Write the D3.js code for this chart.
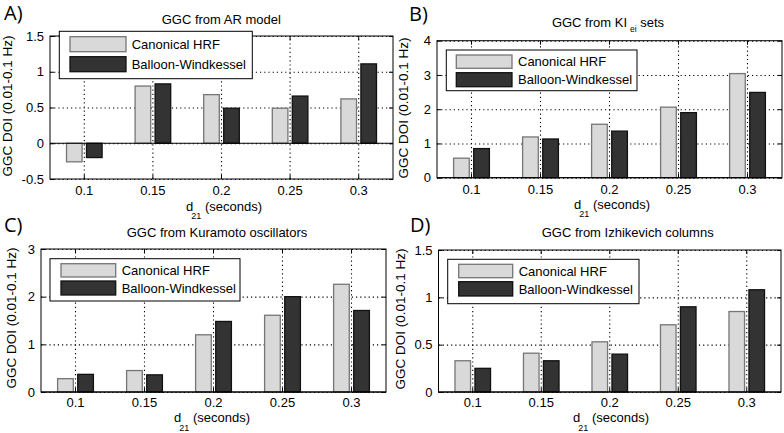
<!DOCTYPE html>
<html>
<head>
<meta charset="utf-8">
<script src="https://cdn.jsdelivr.net/npm/d3@7/dist/d3.min.js"></script>
<style>
  html, body { margin: 0; padding: 0; background: #fff; }
  svg { display: block; font-family: "Liberation Sans", Arial, Helvetica, sans-serif; }
</style>
</head>
<body>
<svg id="chart" width="784" height="433"></svg>
<script>
// ---------- data ----------
const categories = ["0.1", "0.15", "0.2", "0.25", "0.3"];
const seriesNames = ["Canonical HRF", "Balloon-Windkessel"];

const arCanonical = [-0.26, 0.80, 0.68, 0.49, 0.62];
const arBalloon   = [-0.20, 0.83, 0.49, 0.66, 1.11];

const kiCanonical = [0.57, 1.19, 1.56, 2.06, 3.04];
const kiBalloon   = [0.85, 1.13, 1.36, 1.90, 2.49];

const kuCanonical = [0.28, 0.45, 1.20, 1.61, 2.26];
const kuBalloon   = [0.37, 0.36, 1.48, 2.00, 1.71];

const izCanonical = [0.33, 0.41, 0.53, 0.71, 0.85];
const izBalloon   = [0.25, 0.33, 0.40, 0.90, 1.08];

const yTicksA = [-0.5, 0, 0.5, 1, 1.5];
const yTicksB = [0, 1, 2, 3, 4];
const yTicksC = [0, 1, 2, 3];
const yTicksD = [0, 0.5, 1, 1.5];

const panelLabels = ["A)", "B)", "C)", "D)"];
const yLabel = "GGC DOI (0.01-0.1 Hz)";

// ---------- layout ----------
const panels = [
  { label: panelLabels[0], title: ["GGC from AR model"], series: [arCanonical, arBalloon], ticks: yTicksA,
    box: { l: 50, r: 393, t: 36, b: 179 }, lab: { x: 4, y: 20 }, titlePos: { x: 221.3, y: 24.3 },
    yl: { x: 12, y: 106 }, xtY: 195, xl: { x: 224, y: 210.5 },
    leg: { x: 59.3, y: 31.3, w: 193, h: 47.4, sx: 70, sw: 56, sy: [36.7, 56.7], sh: [15, 15], tx: 131.7 } },
  { label: panelLabels[1], title: ["GGC from KI", "ei", " sets"], series: [kiCanonical, kiBalloon], ticks: yTicksB,
    box: { l: 437, r: 782, t: 40.7, b: 177.7 }, lab: { x: 409, y: 21 }, titlePos: { x: 608, y: 26.7 },
    yl: { x: 408, y: 108 }, xtY: 193.5, xl: { x: 612, y: 208.5 },
    leg: { x: 446.3, y: 50, w: 190.7, h: 40.7, sx: 456.3, sw: 55.7, sy: [55, 72.7], sh: [13.3, 14], tx: 518 } },
  { label: panelLabels[2], title: ["GGC from Kuramoto oscillators"], series: [kuCanonical, kuBalloon], ticks: yTicksC,
    box: { l: 41, r: 386, t: 249, b: 392 }, lab: { x: 4, y: 232 }, titlePos: { x: 217, y: 237 },
    yl: { x: 15.5, y: 318 }, xtY: 407, xl: { x: 212, y: 422 },
    leg: { x: 50, y: 258.7, w: 190, h: 42.3, sx: 61, sw: 54.7, sy: [263.7, 281], sh: [13.3, 14], tx: 121.7 } },
  { label: panelLabels[3], title: ["GGC from Izhikevich columns"], series: [izCanonical, izBalloon], ticks: yTicksD,
    box: { l: 438.5, r: 781, t: 250, b: 392 }, lab: { x: 410, y: 232 }, titlePos: { x: 627.7, y: 237 },
    yl: { x: 405, y: 319 }, xtY: 407, xl: { x: 611, y: 422 },
    leg: { x: 447.7, y: 259.3, w: 191.3, h: 44.4, sx: 458.7, sw: 54, sy: [264.3, 281.7], sh: [13.4, 14.3], tx: 518.7 } }
];

const fills = ["#d9d9d9", "#333333"];
const strokes = ["#767676", "#111111"];

const svg = d3.select("#chart");

panels.forEach(p => {
  const g = svg.append("g");
  const b = p.box;
  const x0 = d3.scaleBand().domain(categories).range([b.l, b.r]).padding(0);
  const x1 = d3.scaleBand().domain(seriesNames).range([0, x0.bandwidth()])
    .paddingInner(0.22).paddingOuter(0.825);
  const y = d3.scaleLinear().domain(d3.extent(p.ticks)).range([b.b, b.t]);

  // gridlines
  const grid = g.append("g").attr("class", "grid");
  grid.append("g").attr("transform", `translate(0,${b.b})`)
    .call(d3.axisBottom(x0).tickSize(-(b.b - b.t)).tickFormat(""));
  grid.append("g").attr("transform", `translate(${b.l},0)`)
    .call(d3.axisLeft(y).tickValues(p.ticks).tickSize(-(b.r - b.l)).tickFormat(""));
  grid.selectAll(".domain").remove();
  grid.selectAll("line").attr("stroke", "#000").attr("stroke-width", 1.1)
    .attr("stroke-dasharray", "1.2,3");

  // bars
  categories.forEach((c, i) => {
    seriesNames.forEach((s, k) => {
      const v = p.series[k][i];
      g.append("rect")
        .attr("x", x0(c) + x1(s))
        .attr("width", x1.bandwidth())
        .attr("y", y(Math.max(0, v)))
        .attr("height", Math.abs(y(v) - y(0)))
        .attr("fill", fills[k])
        .attr("stroke", strokes[k])
        .attr("stroke-width", 1.3);
    });
  });

  // baseline at zero
  g.append("line").attr("x1", b.l).attr("x2", b.r).attr("y1", y(0)).attr("y2", y(0))
    .attr("stroke", "#000").attr("stroke-width", 1);

  // axes with inward ticks
  const fmt = d => String(d);
  const ax = g.append("g").attr("class", "axes");
  ax.append("g").attr("transform", `translate(0,${b.b})`)
    .call(d3.axisBottom(x0).tickSize(-4).tickFormat(""));
  ax.append("g").attr("transform", `translate(0,${b.t})`)
    .call(d3.axisTop(x0).tickSize(-4).tickFormat(""));
  ax.append("g").attr("transform", `translate(${b.l},0)`)
    .call(d3.axisLeft(y).tickValues(p.ticks).tickSize(-4).tickPadding(6).tickFormat(fmt));
  ax.append("g").attr("transform", `translate(${b.r},0)`)
    .call(d3.axisRight(y).tickValues(p.ticks).tickSize(-4).tickFormat(""));
  ax.selectAll(".domain").remove();
  ax.selectAll("line").attr("stroke", "#000");
  ax.selectAll("text").attr("font-size", 13).attr("fill", "#000")
    .attr("font-family", "Liberation Sans, Arial, sans-serif");

  // x tick labels
  g.append("g").selectAll("text").data(categories).join("text")
    .attr("x", d => x0(d) + x0.bandwidth() / 2)
    .attr("y", p.xtY)
    .attr("text-anchor", "middle")
    .attr("font-size", 13)
    .text(d => d);

  // box
  g.append("rect").attr("x", b.l).attr("y", b.t).attr("width", b.r - b.l).attr("height", b.b - b.t)
    .attr("fill", "none").attr("stroke", "#000").attr("stroke-width", 1);

  // legend
  const L = p.leg;
  const lg = g.append("g");
  lg.append("rect").attr("x", L.x).attr("y", L.y).attr("width", L.w).attr("height", L.h)
    .attr("fill", "#fff").attr("stroke", "#000").attr("stroke-width", 1);
  seriesNames.forEach((s, k) => {
    lg.append("rect").attr("x", L.sx).attr("y", L.sy[k]).attr("width", L.sw).attr("height", L.sh[k])
      .attr("fill", fills[k]).attr("stroke", strokes[k]).attr("stroke-width", 1.3);
    lg.append("text").attr("x", L.tx).attr("y", L.sy[k] + L.sh[k] / 2 + 4.7)
      .attr("font-size", 13).text(s);
  });

  // title
  const t = g.append("text").attr("x", p.titlePos.x).attr("y", p.titlePos.y)
    .attr("text-anchor", "middle").attr("font-size", 13);
  if (p.title.length === 1) {
    t.text(p.title[0]);
  } else {
    t.append("tspan").text(p.title[0]);
    t.append("tspan").attr("dx", 3).attr("dy", 5).attr("font-size", 8.5).text(p.title[1]);
    t.append("tspan").attr("dy", -5).text(p.title[2]);
  }

  // x label
  const xl = g.append("text").attr("x", p.xl.x).attr("y", p.xl.y)
    .attr("text-anchor", "middle").attr("font-size", 13);
  xl.append("tspan").text("d");
  xl.append("tspan").attr("dx", -2).attr("dy", 8.5).attr("font-size", 9).text("21");
  xl.append("tspan").attr("dy", -8.5).text(" (seconds)");

  // y label
  g.append("text")
    .attr("transform", `translate(${p.yl.x},${p.yl.y}) rotate(-90)`)
    .attr("text-anchor", "middle").attr("font-size", 13.5).text(yLabel);

  // panel label
  g.append("text").attr("x", p.lab.x).attr("y", p.lab.y)
    .attr("font-family", "Open Sans, DejaVu Sans, sans-serif")
    .attr("font-size", 20).text(p.label);
});
</script>
</body>
</html>
